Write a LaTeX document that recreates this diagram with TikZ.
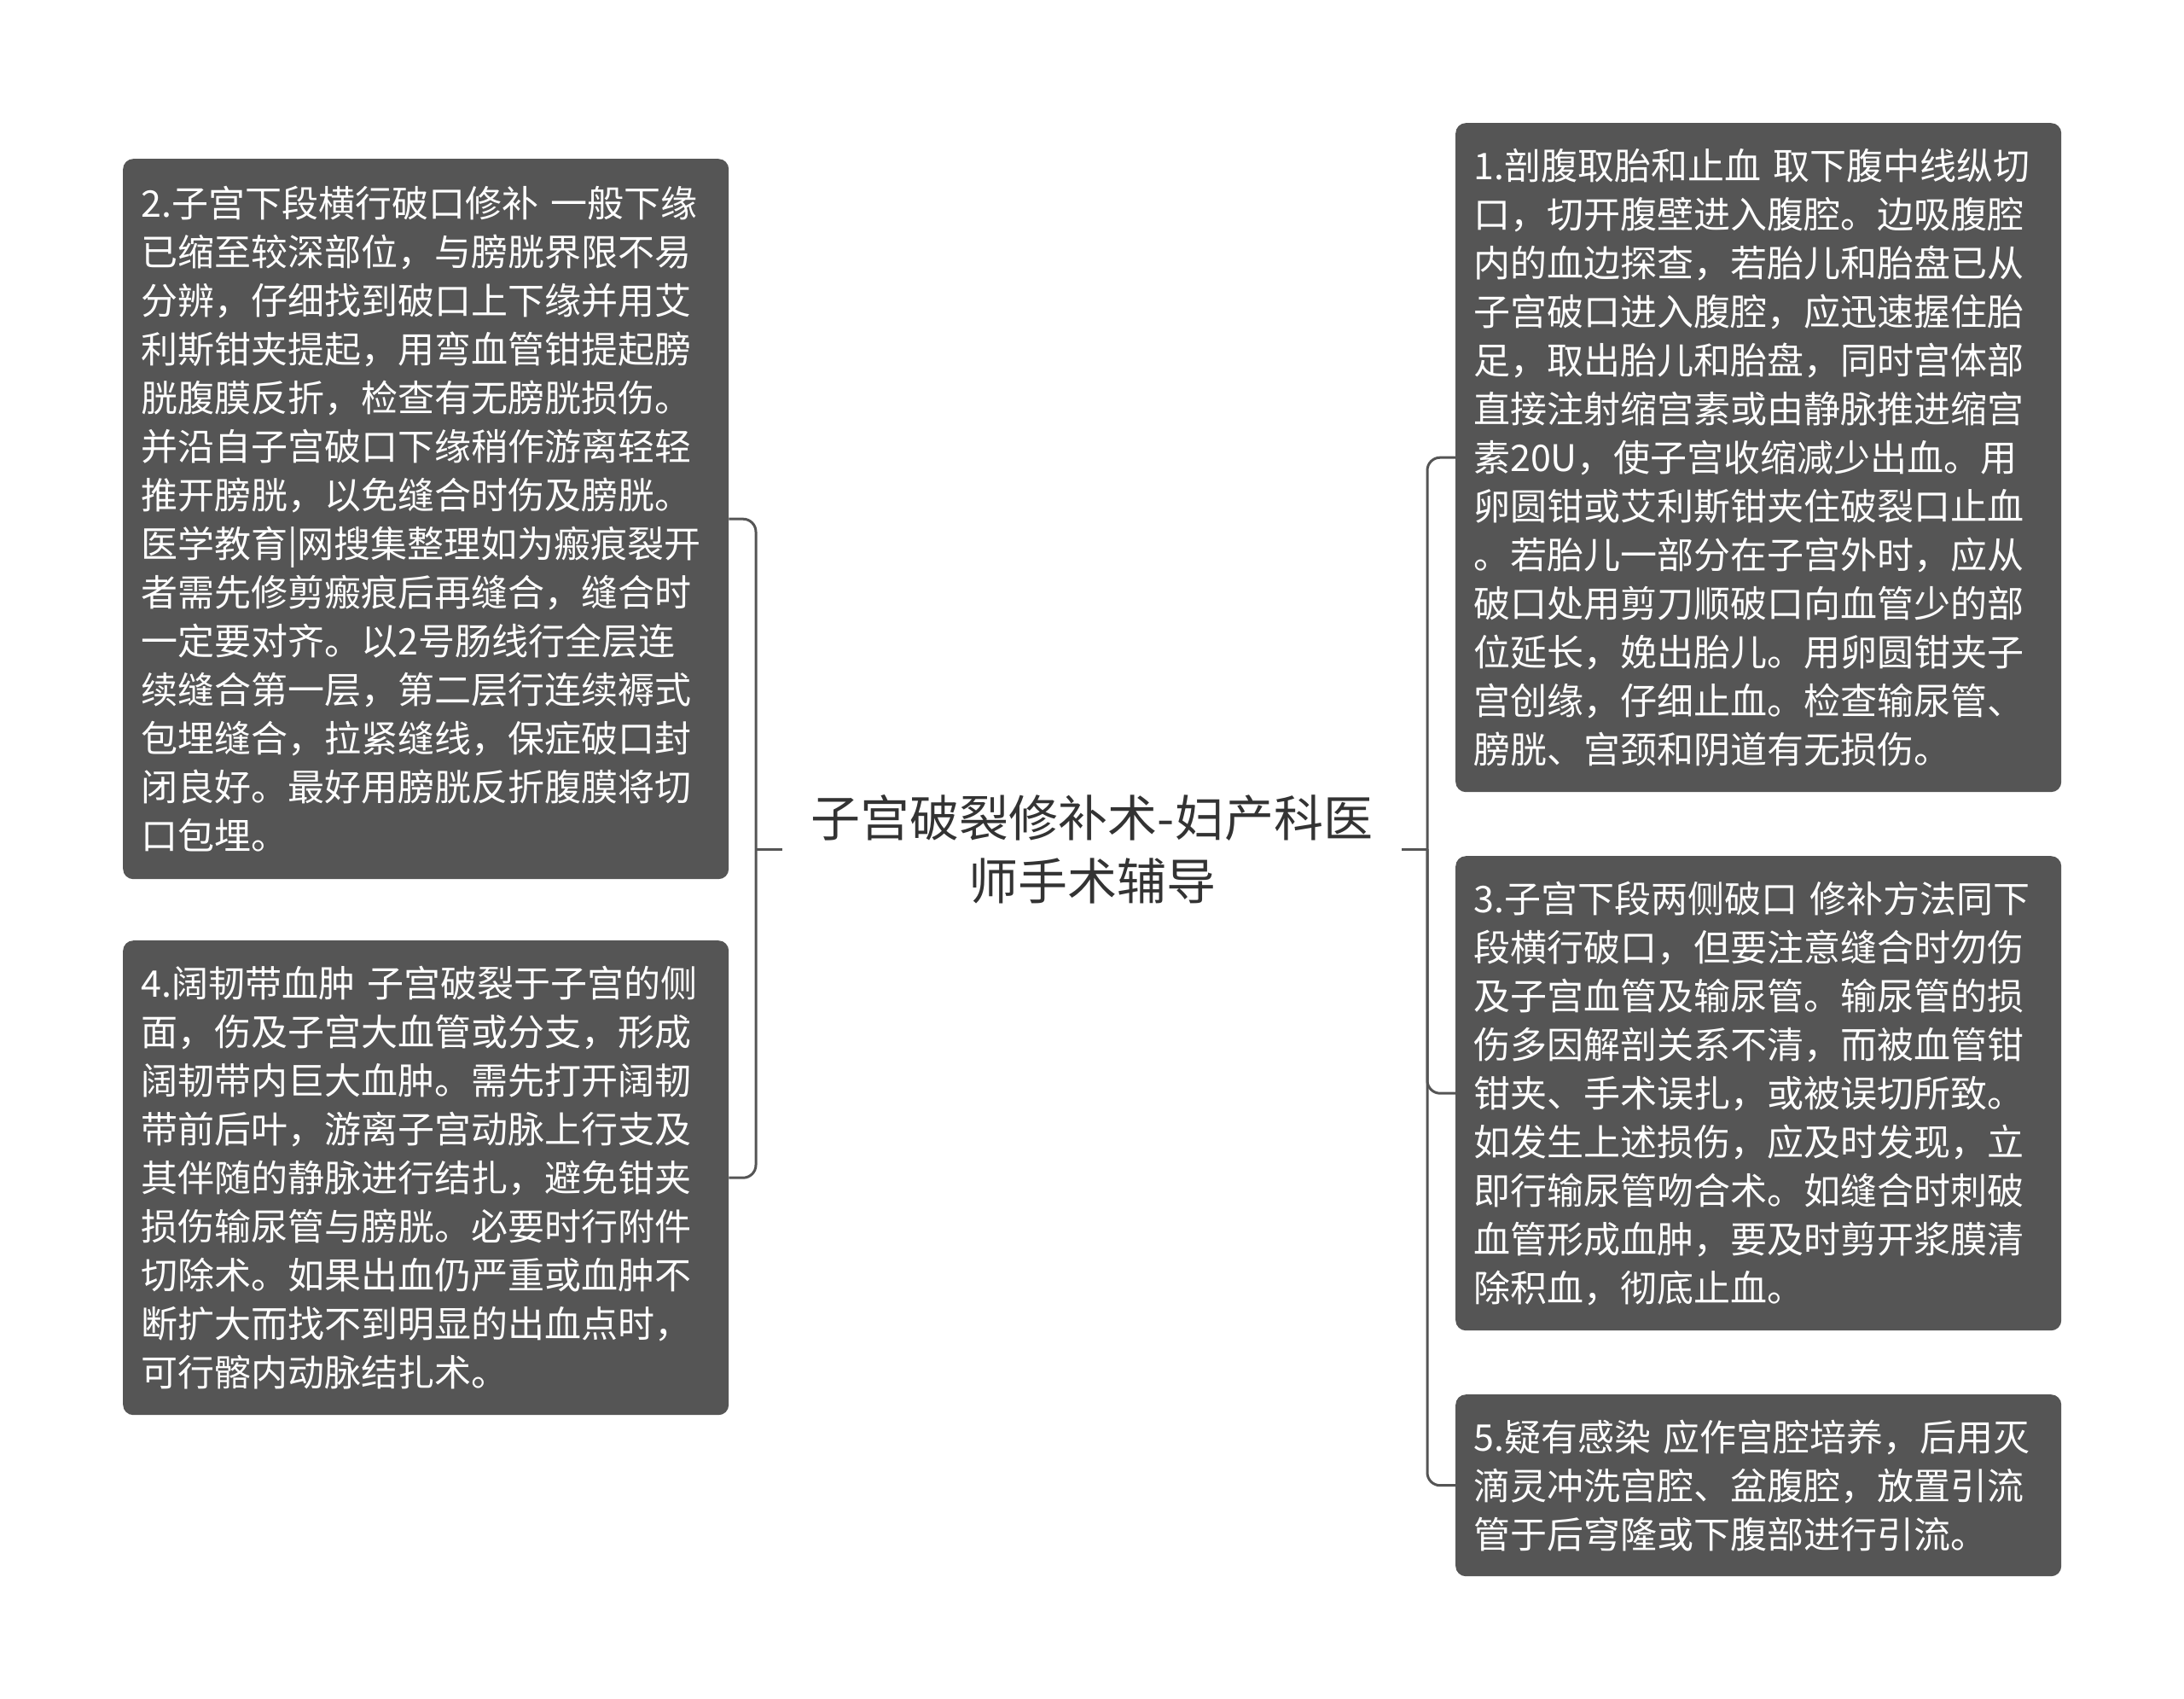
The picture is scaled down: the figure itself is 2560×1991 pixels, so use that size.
\documentclass[tikz,border=0pt]{standalone}
\usepackage{fontspec}
\setmainfont{Noto Sans CJK SC}
\definecolor{boxgray}{HTML}{555555}
\definecolor{linegray}{HTML}{555555}
\definecolor{titlegray}{HTML}{333333}
\begin{document}
\begin{tikzpicture}[x=1pt,y=-1pt,
  box/.style={rounded corners=12pt, fill=boxgray, text=white, anchor=north west,
    inner xsep=21pt, inner ysep=0pt, text width=668pt, align=left,
    font=\fontsize{43}{57}\selectfont},
  conn/.style={draw=linegray, line width=3pt, rounded corners=15pt}]
\fill[white] (0,0) rectangle (2560,1991);
\useasboundingbox (0,0) rectangle (2560,1991);

\node[box, minimum height=844pt] (b2) at (144,186) {2.子宫下段横行破口修补 一般下缘\\
已缩至较深部位，与膀胱界限不易\\
分辨，仔细找到破口上下缘并用艾\\
利斯钳夹提起，用弯血管钳提起膀\\
胱腹膜反折，检查有无膀胱损伤。\\
并沿自子宫破口下缘稍作游离轻轻\\
推开膀胱，以免缝合时伤及膀胱。\\
医学教育|网搜集整理如为瘢痕裂开\\
者需先修剪瘢痕后再缝合，缝合时\\
一定要对齐。以2号肠线行全层连\\
续缝合第一层，第二层行连续褥式\\
包埋缝合，拉紧缝线，保症破口封\\
闭良好。最好用膀胱反折腹膜将切\\
口包埋。};

\node[box, minimum height=556pt] (b4) at (144,1102) {4.阔韧带血肿 子宫破裂于子宫的侧\\
面，伤及子宫大血管或分支，形成\\
阔韧带内巨大血肿。需先打开阔韧\\
带前后叶，游离子宫动脉上行支及\\
其伴随的静脉进行结扎，避免钳夹\\
损伤输尿管与膀胱。必要时行附件\\
切除术。如果出血仍严重或血肿不\\
断扩大而找不到明显的出血点时，\\
可行髂内动脉结扎术。};

\node[box, minimum height=784pt] (b1) at (1706,144) {1.剖腹取胎和止血 取下腹中线纵切\\
口，切开腹壁进入腹腔。边吸腹腔\\
内的血边探查，若胎儿和胎盘已从\\
子宫破口进入腹腔，应迅速握住胎\\
足，取出胎儿和胎盘，同时宫体部\\
直接注射缩宫素或由静脉推进缩宫\\
素20U，使子宫收缩减少出血。用\\
卵圆钳或艾利斯钳夹住破裂口止血\\
。若胎儿一部分在子宫外时，应从\\
破口处用剪刀顺破口向血管少的部\\
位延长，娩出胎儿。用卵圆钳夹子\\
宫创缘，仔细止血。检查输尿管、\\
膀胱、宫颈和阴道有无损伤。};

\node[box, minimum height=556pt] (b3) at (1706,1003) {3.子宫下段两侧破口 修补方法同下\\
段横行破口，但要注意缝合时勿伤\\
及子宫血管及输尿管。输尿管的损\\
伤多因解剖关系不清，而被血管钳\\
钳夹、手术误扎，或被误切所致。\\
如发生上述损伤，应及时发现，立\\
即行输尿管吻合术。如缝合时刺破\\
血管形成血肿，要及时剪开浆膜清\\
除积血，彻底止血。};

\node[box, minimum height=213pt] (b5) at (1706,1634) {5.疑有感染 应作宫腔培养，后用灭\\
滴灵冲洗宫腔、盆腹腔，放置引流\\
管于后穹隆或下腹部进行引流。};

\node[font=\fontsize{58}{74}\selectfont, text=titlegray, align=center,
  minimum width=726pt, inner sep=0pt] (c) at (1280,995)
  {子宫破裂修补术-妇产科医\\师手术辅导};

\coordinate (L) at (886,995);
\coordinate (R) at (1673,995);
\draw[conn] (b2.east) -| (L) |- (b4.east);
\draw[conn] (c.west) -- (L);
\draw[conn] (b1.west) -| (R) |- (b5.west);
\draw[conn] (R) |- (b3.west);
\draw[conn] (c.east) -- (R);
\end{tikzpicture}
\end{document}
